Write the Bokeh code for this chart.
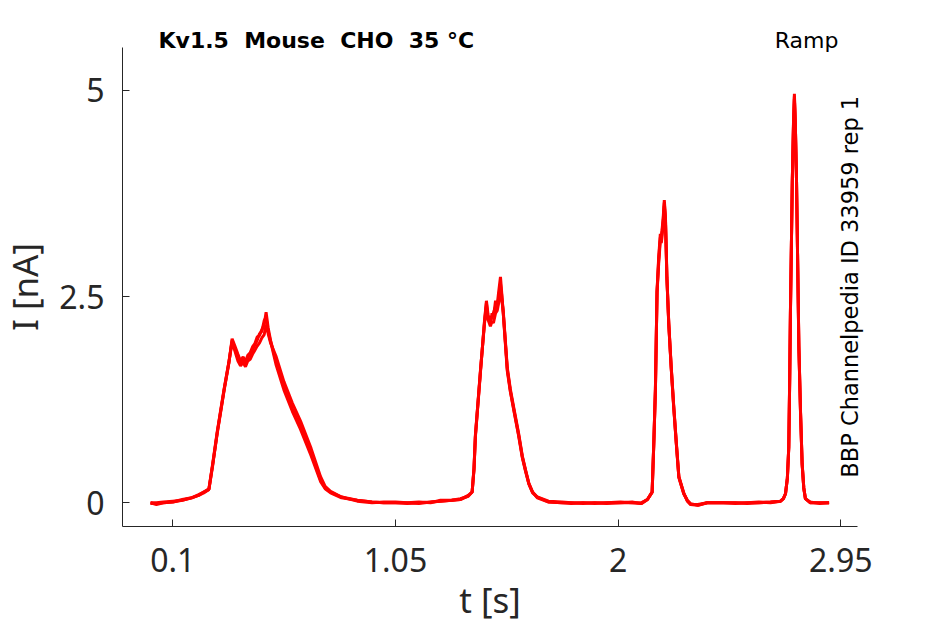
import math
from bokeh.plotting import figure
from bokeh.models import Range1d, Label, FixedTicker
from bokeh.embed import file_html
from bokeh.resources import INLINE

# ---------------- data ----------------
T_S = [
    0.005, 0.03, 0.06, 0.10, 0.14, 0.18, 0.21, 0.232, 0.254,
    0.27, 0.29, 0.303, 0.32, 0.339, 0.353,
    0.365, 0.378, 0.389, 0.40, 0.41, 0.42, 0.43, 0.44, 0.45, 0.46, 0.47, 0.48, 0.49, 0.498, 0.507, 0.517,
    0.54, 0.574, 0.61, 0.645, 0.69, 0.73, 0.75, 0.773, 0.82, 0.887, 0.95, 1.00,
    1.05, 1.10, 1.15, 1.20, 1.242, 1.29, 1.327, 1.36, 1.377,
    1.385, 1.391, 1.402, 1.413, 1.43, 1.438,
    1.445, 1.455, 1.462, 1.468, 1.477, 1.484, 1.49, 1.498, 1.504, 1.51,
    1.527, 1.54, 1.555, 1.575, 1.591, 1.605, 1.619, 1.635, 1.655, 1.703, 1.76,
    1.80, 1.85, 1.90, 1.95, 2.01, 2.06, 2.098, 2.125, 2.145,
    2.152, 2.159, 2.166, 2.173, 2.18, 2.184, 2.187, 2.192, 2.197, 2.202,
    2.208, 2.216, 2.226, 2.237, 2.248, 2.259, 2.28, 2.295, 2.309, 2.34, 2.38,
    2.45, 2.50, 2.55, 2.60, 2.65, 2.693, 2.705, 2.714, 2.722,
    2.728, 2.732, 2.735, 2.739, 2.743, 2.748, 2.752,
    2.756, 2.761, 2.766, 2.771, 2.778, 2.785, 2.792, 2.799, 2.82, 2.86, 2.90,
]

CURRENT_1 = [
    0.00, -0.02, 0.00, 0.01, 0.03, 0.06, 0.09, 0.12, 0.16,
    0.45, 0.85, 1.08, 1.38, 1.69, 1.99,
    1.90, 1.80, 1.72, 1.77, 1.71, 1.79, 1.82, 1.89, 1.93, 2.01, 2.03, 2.10, 2.16, 2.31, 2.12, 1.97,
    1.72, 1.40, 1.14, 0.92, 0.60, 0.28, 0.18, 0.13, 0.07, 0.03, 0.01, 0.00,
    0.00, -0.01, 0.00, 0.01, 0.02, 0.03, 0.04, 0.08, 0.13,
    0.40, 0.80, 1.20, 1.60, 2.21, 2.45,
    2.28, 2.17, 2.30, 2.25, 2.45, 2.40, 2.55, 2.74, 2.52, 2.29,
    1.60, 1.35, 1.12, 0.82, 0.55, 0.38, 0.23, 0.13, 0.07, 0.01, 0.00,
    -0.01, 0.00, 0.00, -0.01, 0.00, 0.00, -0.01, 0.04, 0.13,
    0.70, 1.36, 2.57, 2.98, 3.26, 3.22, 3.30, 3.45, 3.67, 3.46,
    2.75, 2.17, 1.65, 1.16, 0.72, 0.31, 0.11, 0.03, -0.01, -0.03, 0.00,
    0.00, 0.00, -0.01, 0.00, 0.01, 0.02, 0.05, 0.11, 0.30,
    0.67, 1.50, 2.29, 3.10, 3.91, 4.60, 4.96,
    4.60, 3.91, 2.90, 1.89, 1.10, 0.47, 0.18, 0.05, 0.00, 0.00, 0.00,
]

CURRENT_2 = [
    0.00, 0.00, 0.01, 0.02, 0.03, 0.06, 0.09, 0.13, 0.17,
    0.47, 0.87, 1.10, 1.40, 1.70, 1.95,
    1.84, 1.72, 1.66, 1.70, 1.65, 1.72, 1.74, 1.80, 1.85, 1.90, 1.94, 2.00, 2.04, 2.16, 2.05, 1.94,
    1.78, 1.47, 1.21, 0.99, 0.66, 0.32, 0.20, 0.14, 0.07, 0.02, 0.00, 0.01,
    0.01, 0.00, -0.01, 0.01, 0.02, 0.03, 0.05, 0.08, 0.13,
    0.42, 0.82, 1.22, 1.62, 2.18, 2.38,
    2.22, 2.14, 2.20, 2.18, 2.30, 2.33, 2.42, 2.58, 2.45, 2.32,
    1.64, 1.38, 1.15, 0.85, 0.57, 0.40, 0.24, 0.13, 0.06, 0.01, 0.00,
    0.00, -0.01, 0.00, 0.00, 0.01, 0.00, 0.00, 0.04, 0.13,
    0.72, 1.38, 2.55, 2.90, 3.18, 3.15, 3.22, 3.38, 3.60, 3.40,
    2.72, 2.18, 1.67, 1.18, 0.74, 0.32, 0.12, 0.02, -0.02, -0.02, 0.00,
    0.00, -0.01, 0.00, 0.01, 0.00, 0.02, 0.05, 0.11, 0.30,
    0.68, 1.52, 2.30, 3.08, 3.88, 4.55, 4.90,
    4.58, 3.92, 2.92, 1.91, 1.12, 0.48, 0.18, 0.05, 0.01, -0.01, 0.00,
]

CURRENT_3 = [
    -0.01, -0.01, 0.00, 0.01, 0.04, 0.06, 0.10, 0.13, 0.16,
    0.46, 0.86, 1.09, 1.39, 1.70, 1.97,
    1.87, 1.76, 1.69, 1.74, 1.68, 1.76, 1.79, 1.86, 1.91, 1.97, 2.05, 2.08, 2.21, 2.25, 2.08, 1.96,
    1.68, 1.37, 1.11, 0.89, 0.57, 0.26, 0.17, 0.12, 0.06, 0.03, 0.01, 0.00,
    0.00, 0.00, 0.01, 0.00, 0.03, 0.03, 0.04, 0.09, 0.13,
    0.41, 0.81, 1.21, 1.61, 2.20, 2.42,
    2.25, 2.20, 2.26, 2.30, 2.38, 2.36, 2.48, 2.66, 2.50, 2.30,
    1.62, 1.36, 1.13, 0.83, 0.56, 0.39, 0.23, 0.12, 0.07, 0.02, 0.01,
    0.00, 0.00, -0.01, 0.00, 0.00, 0.01, -0.01, 0.04, 0.13,
    0.71, 1.37, 2.56, 2.95, 3.22, 3.20, 3.27, 3.41, 3.64, 3.43,
    2.73, 2.16, 1.66, 1.17, 0.73, 0.31, 0.11, 0.03, -0.02, -0.03, 0.00,
    0.00, 0.00, 0.00, 0.00, 0.01, 0.02, 0.05, 0.11, 0.30,
    0.67, 1.51, 2.29, 3.09, 3.90, 4.58, 4.93,
    4.59, 3.91, 2.91, 1.90, 1.11, 0.47, 0.18, 0.05, 0.00, 0.00, 0.00,
]

assert len(T_S) == len(CURRENT_1) == len(CURRENT_2) == len(CURRENT_3)

X_TICKS = [0.1, 1.05, 2.0, 2.95]
X_TICK_LABELS = ["0.1", "1.05", "2", "2.95"]
Y_TICKS = [0, 2.5, 5]
Y_TICK_LABELS = ["0", "2.5", "5"]

# axes extents (data units)
X_AXIS_LIMITS = (-0.1146, 3.021)
Y_AXIS_LIMITS = (-0.287, 5.52)

NB = "\u00a0"
TITLE_TEXT = "Kv1.5 " + NB + "Mouse " + NB + "CHO " + NB + "35 °C"
PROTOCOL_TEXT = "Ramp"
SIDE_TEXT = "BBP Channelpedia ID 33959 rep 1"

# ---------------- figure ----------------
p = figure(width=929, height=624, output_backend="svg", toolbar_location=None,
           x_range=Range1d(-0.6351, 3.3284), y_range=Range1d(-1.4759, 6.0914),
           min_border_left=0, min_border_right=0, min_border_top=0, min_border_bottom=0)
p.outline_line_color = None
p.grid.visible = False
p.background_fill_color = "white"
p.border_fill_color = "white"

for cur in (CURRENT_1, CURRENT_2, CURRENT_3):
    p.line(T_S, cur, line_color="#ff0000", line_width=3)

axis_color = "#262626"
tick_font = "Noto Sans"
for ax in (p.xaxis[0], p.yaxis[0]):
    ax.axis_line_color = axis_color
    ax.major_tick_line_color = axis_color
    ax.major_tick_in = 7
    ax.major_tick_out = 0
    ax.minor_tick_line_color = None
    ax.major_label_text_font = tick_font
    ax.major_label_text_font_size = "32px"
    ax.major_label_text_color = axis_color
    ax.axis_label_text_font = tick_font
    ax.axis_label_text_font_size = "35px"
    ax.axis_label_text_font_style = "normal"
    ax.axis_label_text_color = axis_color

p.xaxis.fixed_location = Y_AXIS_LIMITS[0]
p.xaxis.bounds = X_AXIS_LIMITS
p.yaxis.fixed_location = X_AXIS_LIMITS[0]
p.yaxis.bounds = Y_AXIS_LIMITS

p.xaxis.ticker = FixedTicker(ticks=X_TICKS)
p.xaxis.major_label_overrides = {t: l for t, l in zip(X_TICKS, X_TICK_LABELS)}
p.yaxis.ticker = FixedTicker(ticks=Y_TICKS)
p.yaxis.major_label_overrides = {t: l for t, l in zip(Y_TICKS, Y_TICK_LABELS)}
p.xaxis.axis_label = "t [s]"
p.yaxis.axis_label = "I [nA]"
p.xaxis.major_label_standoff = 22
p.yaxis.major_label_standoff = 18
p.xaxis.axis_label_standoff = 0
p.yaxis.axis_label_standoff = 8

p.add_layout(Label(x=0.039, y=5.606, text=TITLE_TEXT, text_font="DejaVu Sans",
                   text_font_style="bold", text_font_size="22px", text_color="black",
                   text_baseline="middle", text_align="left"))
p.add_layout(Label(x=2.94, y=5.606, text=PROTOCOL_TEXT, text_font="DejaVu Sans",
                   text_font_size="22px", text_color="black",
                   text_baseline="middle", text_align="right"))
p.add_layout(Label(x=2.99, y=2.62, text=SIDE_TEXT, text_font="DejaVu Sans",
                   text_font_size="22.5px", text_color="black", angle=math.pi / 2,
                   text_baseline="middle", text_align="center"))

open("out.html", "w").write(file_html(p, INLINE))
